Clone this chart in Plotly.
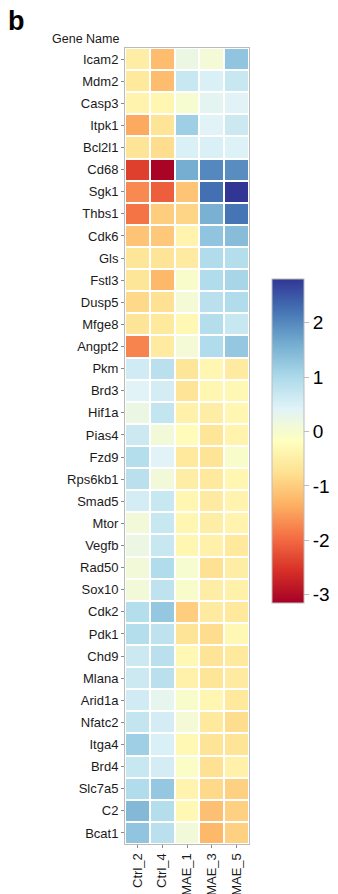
import plotly.graph_objects as go

genes = ["Icam2", "Mdm2", "Casp3", "Itpk1", "Bcl2l1", "Cd68", "Sgk1", "Thbs1", "Cdk6", "Gls",
         "Fstl3", "Dusp5", "Mfge8", "Angpt2", "Pkm", "Brd3", "Hif1a", "Pias4", "Fzd9", "Rps6kb1",
         "Smad5", "Mtor", "Vegfb", "Rad50", "Sox10", "Cdk2", "Pdk1", "Chd9", "Mlana", "Arid1a",
         "Nfatc2", "Itga4", "Brd4", "Slc7a5", "C2", "Bcat1"]
samples = ["Ctrl_2", "Ctrl_4", "MMAE_1", "MMAE_3", "MMAE_5"]

ctrl_2 = [-0.5, -0.6, -0.4, -1.4, -0.7, -2.4, -1.7, -1.9, -1.1, -0.65,
          -0.65, -0.85, -0.7, -1.75, 0.6, 0.4, 0.2, 0.65, 0.9, 0.85,
          0.55, 0.1, 0.2, 0.1, 0.1, 0.9, 0.9, 0.65, 0.65, 0.6,
          0.75, 1.15, 0.7, 0.95, 1.45, 1.3]
ctrl_4 = [-1.2, -1.2, -0.35, -0.7, -0.8, -3.1, -2.1, -1.0, -1.05, -0.7,
          -1.25, -0.75, -0.6, -0.55, 0.85, 0.55, 0.75, 0.1, 0.4, 0.1,
          0.7, 0.7, 0.7, 0.95, 0.8, 1.25, 0.8, 0.85, 0.85, 0.3,
          0.55, 0.5, 0.55, 1.25, 0.9, 0.85]
mmae_1 = [0.2, 0.7, 0.0, 1.15, 0.5, 1.6, -1.1, -0.9, -0.4, -0.55,
          -0.05, 0.05, -0.3, 0.05, -0.65, -0.7, -0.45, -0.25, -0.6, -0.5,
          -0.35, -0.35, -0.35, 0.0, -0.05, -1.0, -0.7, -0.3, -0.45, -0.05,
          0.05, -0.3, -0.1, -0.4, -0.3, 0.1]
mmae_3 = [0.05, 0.5, 0.35, 0.4, 0.5, 2.0, 2.25, 1.55, 1.3, 0.95,
          0.95, 0.85, 0.9, 0.95, -0.35, -0.35, -0.5, -0.65, -0.7, -0.6,
          -0.55, -0.5, -0.45, -0.75, -0.5, -0.55, -0.8, -0.7, -0.65, -0.35,
          -0.6, -0.7, -0.75, -0.85, -1.15, -1.25]
mmae_5 = [1.3, 0.7, 0.4, 0.65, 0.45, 1.95, 2.8, 2.2, 1.4, 0.9,
          1.05, 0.95, 0.7, 1.25, -0.55, -0.3, -0.35, -0.4, -0.05, -0.35,
          -0.4, -0.4, -0.6, -0.5, -0.45, -0.6, -0.3, -0.6, -0.55, -0.6,
          -0.8, -0.7, -0.45, -0.95, -0.95, -0.95]

cbar_vals = [-3, -2, -1, 0, 1, 2]
cbar_text = ["-3", "-2", "-1", "0", "1", "2"]

z = [list(r) for r in zip(ctrl_2, ctrl_4, mmae_1, mmae_3, mmae_5)]

rdylbu = [[0.0, "rgb(165,0,38)"], [0.1, "rgb(215,48,39)"], [0.2, "rgb(244,109,67)"],
          [0.3, "rgb(253,174,97)"], [0.4, "rgb(254,224,144)"], [0.5, "rgb(255,255,191)"],
          [0.6, "rgb(224,243,248)"], [0.7, "rgb(171,217,233)"], [0.8, "rgb(116,173,209)"],
          [0.9, "rgb(69,117,180)"], [1.0, "rgb(49,54,149)"]]

# page has an 8px body margin: figure coords = page coords - 8
OFF = 8
W, H = 338, 894
L, T = 125 - OFF, 48 - OFF
R, B = W - (249 - OFF), H - (844 - OFF)
PW, PH = W - L - R, H - T - B
FONT = "Liberation Sans, Arial, sans-serif"


def px_x(x):
    return (x - OFF - L) / PW


def px_y(y):
    return (H - B - (y - OFF)) / PH


fig = go.Figure(go.Heatmap(
    z=z, x=samples, y=genes, colorscale=rdylbu, zmin=-3.15, zmax=2.8,
    xgap=2, ygap=2,
    colorbar=dict(
        x=px_x(272), xanchor="left",
        y=px_y(279), yanchor="top", lenmode="pixels", len=324,
        thickness=32, outlinewidth=1, outlinecolor="#bbbbbb",
        tickvals=cbar_vals, ticktext=cbar_text, ticks="outside", ticklen=5,
        tickcolor="#bbbbbb", tickfont=dict(size=19, color="black", family=FONT),
        xpad=0, ypad=0,
    ),
))

fig.update_layout(
    width=W, height=H, margin=dict(l=L, r=R, t=T, b=B, autoexpand=False),
    paper_bgcolor="white", plot_bgcolor="white",
    font=dict(family=FONT, size=13, color="#1a1a1a"),
    xaxis=dict(tickangle=-90, showline=True, mirror=True, linecolor="#bbbbbb", linewidth=1,
               ticks="outside", ticklen=3, tickcolor="#888888", showgrid=False,
               tickfont=dict(size=13, color="#1a1a1a")),
    yaxis=dict(autorange="reversed", showline=True, mirror=True, linecolor="#bbbbbb", linewidth=1,
               ticks="outside", ticklen=3, tickcolor="#888888", showgrid=False,
               tickfont=dict(size=13, color="#1a1a1a")),
    annotations=[
        dict(text="<b>b</b>", xref="paper", yref="paper", x=px_x(6), y=px_y(4),
             xanchor="left", yanchor="top", showarrow=False, font=dict(size=27, color="black")),
        dict(text="Gene Name", xref="paper", yref="paper", x=px_x(121), y=px_y(39),
             xanchor="right", yanchor="middle", showarrow=False, font=dict(size=12.5, color="#1a1a1a")),
    ],
)

fig.write_html("out.html")
